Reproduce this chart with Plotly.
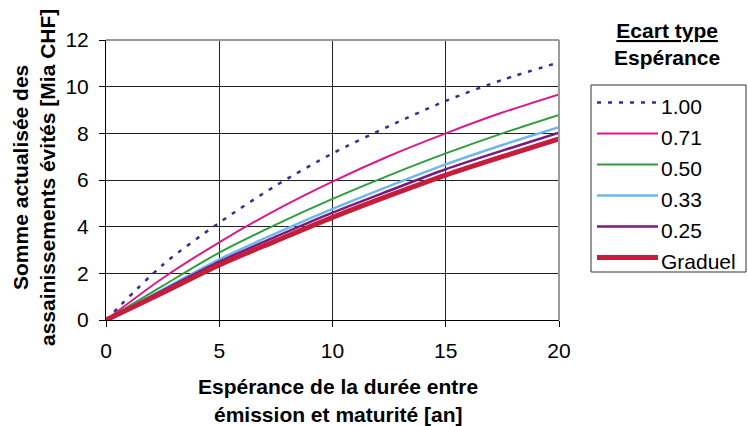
import plotly.graph_objects as go

# Expected time between issue and maturity [years]
x_years = [0, 2.5, 5, 7.5, 10, 12.5, 15, 17.5, 20]

# Discounted sum of avoided clean-ups [bn CHF], one series per std/mean ratio
s_100 = [0, 2.36, 4.17, 5.76, 7.14, 8.31, 9.39, 10.29, 11.04]
s_071 = [0, 1.79, 3.33, 4.71, 5.93, 7.03, 8.00, 8.89, 9.67]
s_050 = [0, 1.46, 2.89, 4.09, 5.19, 6.20, 7.14, 8.00, 8.79]
s_033 = [0, 1.30, 2.60, 3.71, 4.76, 5.74, 6.67, 7.50, 8.26]
s_025 = [0, 1.26, 2.50, 3.57, 4.60, 5.54, 6.46, 7.26, 8.03]
s_grad = [0, 1.17, 2.36, 3.39, 4.40, 5.33, 6.21, 7.00, 7.76]

series_names = ["1.00", "0.71", "0.50", "0.33", "0.25", "Graduel"]
series_values = [s_100, s_071, s_050, s_033, s_025, s_grad]
series_colors = ["#3A2D8F", "#D81B8A", "#2E9E3E", "#6BB7EE", "#7A1A80", "#C41E3A"]
series_widths = [2.5, 2, 2, 2.5, 2.5, 5]
series_dash = ["4px,7px", "solid", "solid", "solid", "solid", "solid"]

x_ticks = [0, 5, 10, 15, 20]
y_ticks = [0, 2, 4, 6, 8, 10, 12]

x_title_lines = ["Espérance de la durée entre", "émission et maturité [an]"]
y_title = "Somme actualisée des<br>assainissements évités [Mia CHF]"
legend_title = "<b><u>Ecart type</u><br>Espérance</b>"

FONT = "Liberation Sans, Arial, sans-serif"
W, H = 748, 426
L, R, T, B = 106, 189, 40, 106
PW, PH = W - L - R, H - T - B


def paper(px, py):
    """Convert page pixels to paper coordinates."""
    return (px - L) / PW, (H - B - py) / PH


def text_font():
    return dict(family=FONT, size=21, color="#000000")


fig = go.Figure()

# the thick "Graduel" curve is added last so it sits on top
for i, name in enumerate(series_names):
    fig.add_trace(go.Scatter(
        x=x_years, y=series_values[i], name=name,
        mode="lines", line=dict(color=series_colors[i], width=series_widths[i],
                                dash=series_dash[i], shape="spline", smoothing=0.8),
        showlegend=False, hoverinfo="skip",
    ))

axis_common = dict(
    showgrid=True, gridcolor="#222222", gridwidth=1,
    showline=True, linecolor="#000000", linewidth=1,
    ticks="outside", ticklen=6, tickcolor="#000000", tickwidth=1,
    tickfont=text_font(), ticklabelstandoff=6,
    zeroline=False, fixedrange=True,
)
fig.update_xaxes(range=[0, 20], tickvals=x_ticks, **axis_common)
fig.update_yaxes(range=[0, 12], tickvals=y_ticks, **axis_common)

shapes = [
    # grey frame on top and right of the plot area
    dict(type="line", xref="paper", yref="paper", x0=0, x1=1, y0=1, y1=1,
         line=dict(color="#9A9A9A", width=2)),
    dict(type="line", xref="paper", yref="paper", x0=1, x1=1, y0=0, y1=1,
         line=dict(color="#9A9A9A", width=2)),
]
annotations = []

# x axis title, one annotation per line
for k, line in enumerate(x_title_lines):
    ax, ay = paper(338, 386 + 28 * k)
    annotations.append(dict(
        xref="paper", yref="paper", x=ax, y=ay, xanchor="center", yanchor="middle",
        text=f"<b>{line}</b>", showarrow=False, font=text_font(),
    ))

# y axis title
ax, ay = paper(34, 178)
annotations.append(dict(
    xref="paper", yref="paper", x=ax, y=ay, xanchor="center", yanchor="middle",
    text=f"<b>{y_title}</b>", textangle=-90, showarrow=False, font=text_font(),
))

# legend: title, frame, samples and labels
ax, ay = paper(667, 44)
annotations.append(dict(
    xref="paper", yref="paper", x=ax, y=ay, xanchor="center", yanchor="middle",
    text=legend_title, showarrow=False, font=text_font(),
))
bx0, by0 = paper(591, 85)
bx1, by1 = paper(746, 272)
shapes.append(dict(type="rect", xref="paper", yref="paper", x0=bx0, x1=bx1, y0=by1, y1=by0,
                   line=dict(color="#333333", width=1), fillcolor="rgba(0,0,0,0)"))
for i, name in enumerate(series_names):
    ly = 102.5 + 31.0 * i
    sx0, sy = paper(597, ly)
    sx1, _ = paper(658, ly)
    shapes.append(dict(type="line", xref="paper", yref="paper", x0=sx0, x1=sx1, y0=sy, y1=sy,
                       line=dict(color=series_colors[i], width=series_widths[i],
                                 dash=series_dash[i])))
    tx, ty = paper(659, ly + 4)
    annotations.append(dict(
        xref="paper", yref="paper", x=tx, y=ty, xanchor="left", yanchor="middle",
        text=name, showarrow=False, font=text_font(),
    ))

fig.update_layout(
    width=W, height=H,
    margin=dict(l=L, r=R, t=T, b=B, pad=0),
    paper_bgcolor="#FFFFFF", plot_bgcolor="#FFFFFF",
    showlegend=False,
    shapes=shapes, annotations=annotations,
    font=text_font(),
)

fig.write_html("out.html")
